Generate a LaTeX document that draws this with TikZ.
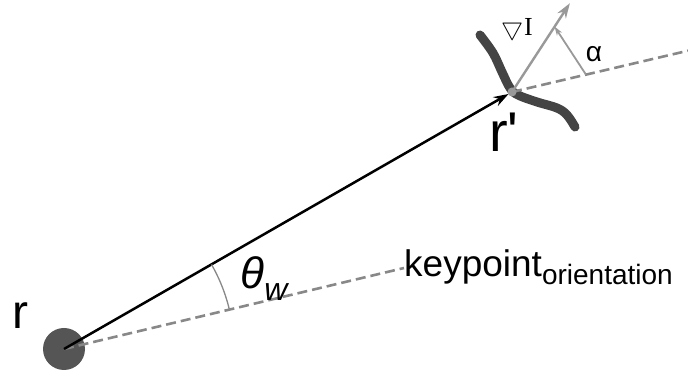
\documentclass[tikz,border=0pt]{standalone}
\usepackage{fontspec}
\setmainfont{Liberation Sans}
\usepackage{amssymb}
\usetikzlibrary{arrows.meta,positioning}
\definecolor{blobgray}{HTML}{555555}
\definecolor{edgegray}{HTML}{444444}
\definecolor{linegray}{HTML}{999999}
\definecolor{dashgray}{HTML}{888888}

\begin{document}
\begin{tikzpicture}[x=1pt, y=1pt,
  orient/.style={dash pattern=on 10pt off 5pt, line width=2.6pt, dashgray},
  grad/.style={line width=2.4pt, linegray, -{Stealth[length=15pt, width=10pt]}},
  lbl/.style={inner sep=0pt, anchor=center}]
\useasboundingbox (0,0) rectangle (688,374);
% edge curve through the keypoint
\draw[edgegray, line width=9pt, line cap=round] plot[smooth, tension=0.6] coordinates
  {(480,339) (493,321) (502,302) (510,286) (518,279) (537,272) (557,266) (567,259) (575,247)};
\node[circle, fill=blobgray, minimum size=42pt, inner sep=0pt] (r) at (64,25) {};
\coordinate (rp) at (512,282);
\node[lbl, font=\fontsize{48}{48}\selectfont] (rlab) at (20,58) {r};
\node[lbl, font=\fontsize{56}{56}\selectfont] (rplab) at (504,242) {r\textquotesingle};
% orientation lines
\node[anchor=base west, inner sep=0pt, font=\fontsize{37}{37}\selectfont] (kp) at (404,97)
  {keypoint\raisebox{-8pt}{\fontsize{28}{28}\selectfont orientation}};
\draw[orient] (r.center) -- (kp.west |- 0,106);
\coordinate (oend) at ([shift={(13.2:182)}]rp);
\draw[orient] (rp) -- (oend);
% displacement and gradient
\draw[line width=2.5pt, -{Stealth[length=15pt, width=10pt]}, shorten >=4pt] (r.center) -- (rp);
\coordinate (gend) at ([shift={(56.9:106)}]rp);
\draw[grad] (rp) -- (gend);
\node[lbl, font=\fontsize{26}{26}\selectfont] (glab) at (517,345) {$\bigtriangledown$\kern1pt\fontspec{Liberation Serif}I};
% angles
\coordinate (a1) at ([shift={(13.2:76)}]rp);
\coordinate (a2) at ([shift={(56.9:78)}]rp);
\draw[linegray, line width=1.8pt, -{Stealth[length=9pt, width=6pt]}] (a1) -- (a2);
\node[lbl, font=\fontsize{28}{28}\selectfont] (alab) at (594,320) {α};
\draw[dashgray, line width=1.3pt] ([shift={(13.3:170)}]r.center) arc[start angle=13.3, end angle=29.8, radius=170];
\node[lbl, font=\fontsize{44}{44}\selectfont\itshape] (tlab) at (264,95) {θ\raisebox{-12pt}{\fontsize{32}{32}\selectfont w}};
\fill[linegray] (rp) circle (4.5pt);
\end{tikzpicture}
\end{document}
